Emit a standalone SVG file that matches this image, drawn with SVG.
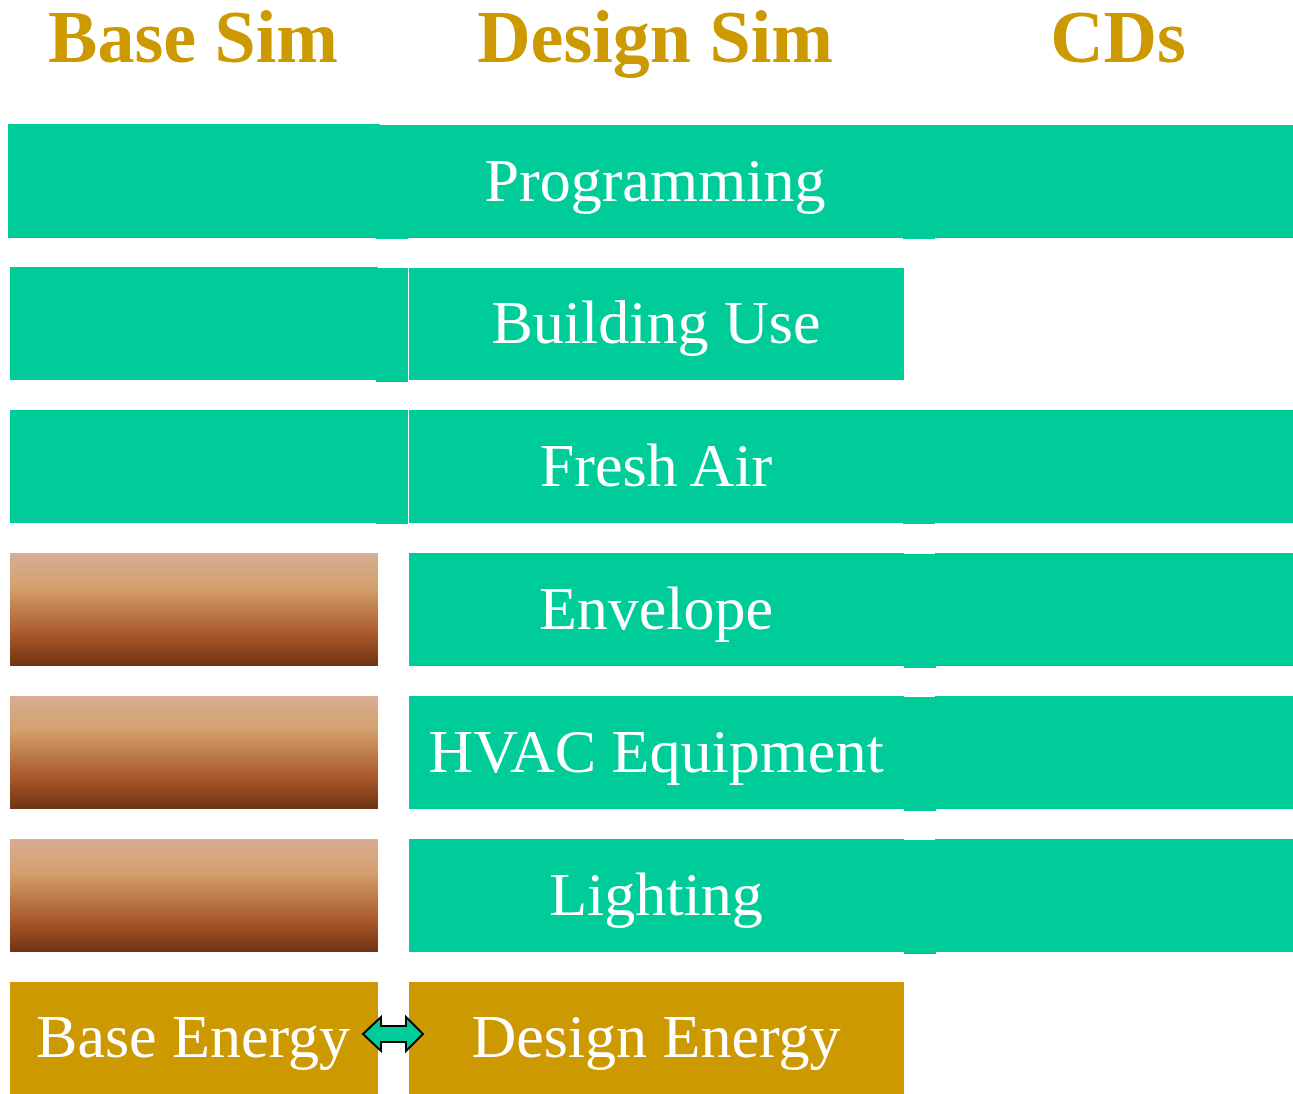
<svg xmlns="http://www.w3.org/2000/svg" width="1293" height="1094" viewBox="0 0 1293 1094">
<defs>
<linearGradient id="brass" x1="0" y1="0" x2="0" y2="1">
<stop offset="0" stop-color="#D7AE95"/>
<stop offset="0.3" stop-color="#D4A06C"/>
<stop offset="0.75" stop-color="#A55427"/>
<stop offset="1" stop-color="#6E3315"/>
</linearGradient>
<style>
.t{fill:#00CC99}
.g{fill:#CC9900}
.b{fill:url(#brass)}
.h{font-family:"Liberation Serif","Times New Roman",serif;font-weight:bold;font-size:74px;fill:#CC9900;text-anchor:middle}
.l{font-family:"Liberation Serif","Times New Roman",serif;font-size:62px;fill:#FFFFFF;text-anchor:middle}
</style>
</defs>
<rect width="1293" height="1094" fill="#FFFFFF"/>
<g id="headers">
<text class="h" x="193" y="62">Base Sim</text>
<text class="h" x="655" y="62">Design Sim</text>
<text class="h" x="1118" y="62">CDs</text>
</g>
<g id="programming">
<rect class="t" x="8" y="124" width="372" height="114"/>
<rect class="t" x="376" y="125" width="32" height="114"/>
<rect class="t" x="408" y="125" width="495" height="113"/>
<rect class="t" x="903" y="125" width="32" height="114"/>
<rect class="t" x="935" y="125" width="358" height="113"/>
<text class="l" x="655" y="201">Programming</text>
</g>
<g id="building-use">
<rect class="t" x="10" y="267" width="368" height="113"/>
<rect class="t" x="376" y="268" width="32" height="114"/>
<rect class="t" x="409" y="268" width="495" height="112"/>
<text class="l" x="656" y="343">Building Use</text>
</g>
<g id="fresh-air">
<rect class="t" x="10" y="410" width="368" height="113"/>
<rect class="t" x="376" y="410" width="32" height="114"/>
<rect class="t" x="409" y="410" width="495" height="113"/>
<rect class="t" x="903" y="410" width="32" height="114"/>
<rect class="t" x="935" y="410" width="358" height="113"/>
<text class="l" x="656" y="486">Fresh Air</text>
</g>
<g id="envelope">
<rect class="b" x="10" y="553" width="368" height="113"/>
<rect class="t" x="409" y="553" width="495" height="113"/>
<rect class="t" x="904" y="554" width="32" height="114"/>
<rect class="t" x="935" y="553" width="358" height="113"/>
<text class="l" x="656" y="629">Envelope</text>
</g>
<g id="hvac-equipment">
<rect class="b" x="10" y="696" width="368" height="113"/>
<rect class="t" x="409" y="696" width="495" height="113"/>
<rect class="t" x="904" y="697" width="32" height="114"/>
<rect class="t" x="935" y="696" width="358" height="113"/>
<text class="l" x="656" y="772">HVAC Equipment</text>
</g>
<g id="lighting">
<rect class="b" x="10" y="839" width="368" height="113"/>
<rect class="t" x="409" y="839" width="495" height="113"/>
<rect class="t" x="904" y="840" width="32" height="114"/>
<rect class="t" x="935" y="839" width="358" height="113"/>
<text class="l" x="656" y="915">Lighting</text>
</g>
<g id="base-energy">
<rect class="g" x="10" y="982" width="368" height="112"/>
<text class="l" x="193" y="1057">Base Energy</text>
</g>
<g id="design-energy">
<rect class="g" x="409" y="982" width="495" height="112"/>
<text class="l" x="656" y="1057">Design Energy</text>
</g>
<g id="connectors">
<path d="M363,1034 L381,1017 L381,1026 L406,1026 L406,1017 L423,1034 L406,1051 L406,1042 L381,1042 L381,1051 Z" fill="#00CC99" stroke="#000000" stroke-width="2" stroke-linejoin="miter"/>
</g>
</svg>
